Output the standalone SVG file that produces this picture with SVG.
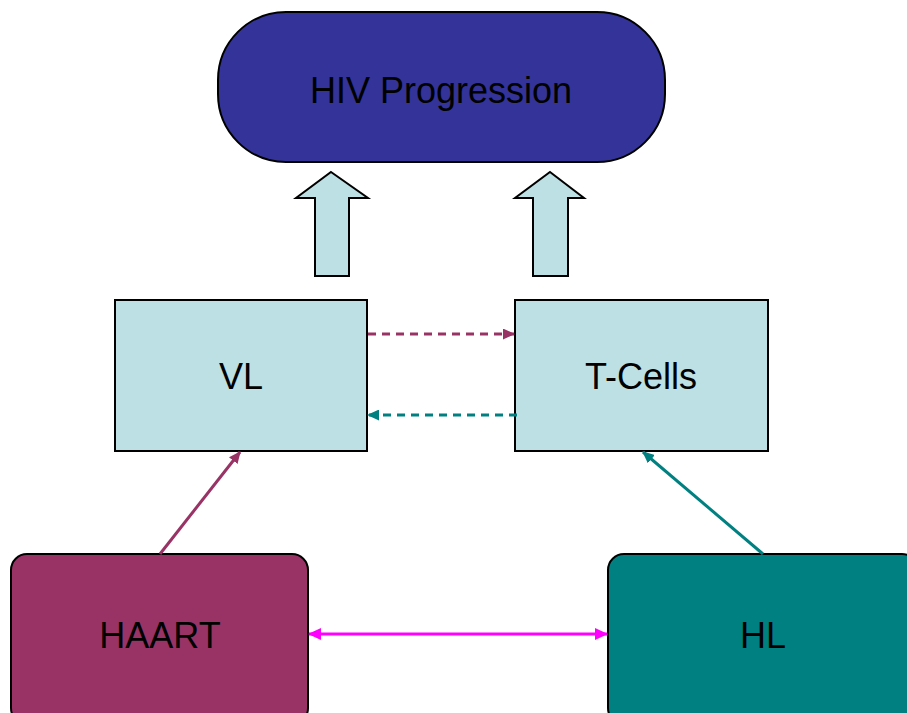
<svg xmlns="http://www.w3.org/2000/svg" width="907" height="713" viewBox="0 0 907 713">
<style>
.lbl{font-family:"Liberation Sans",Arial,sans-serif;font-size:36px;fill:#000;text-anchor:middle;dominant-baseline:central}
.box{fill:#BCE0E3;stroke:#000;stroke-width:2}
.blk{fill:#BCE0E3;stroke:#000;stroke-width:2;stroke-linejoin:miter}
</style>
<defs>
<marker id="mPurple" markerWidth="12" markerHeight="11" refX="11" refY="5.5" orient="auto" markerUnits="userSpaceOnUse" viewBox="0 0 12 11"><path d="M0,0 L12,5.5 L0,11 z" fill="#993366"/></marker>
<marker id="mTeal" markerWidth="12" markerHeight="11" refX="11" refY="5.5" orient="auto" markerUnits="userSpaceOnUse" viewBox="0 0 12 11"><path d="M0,0 L12,5.5 L0,11 z" fill="#008080"/></marker>
<marker id="mMagE" markerWidth="13" markerHeight="12" refX="12" refY="6" orient="auto" markerUnits="userSpaceOnUse" viewBox="0 0 13 12"><path d="M0,0 L13,6 L0,12 z" fill="#FF00FF"/></marker>
<marker id="mMagS" markerWidth="13" markerHeight="12" refX="1" refY="6" orient="auto" markerUnits="userSpaceOnUse" viewBox="0 0 13 12"><path d="M13,0 L0,6 L13,12 z" fill="#FF00FF"/></marker>
</defs>
<g id="hiv">
<rect x="218" y="12" width="447" height="150" rx="68" ry="68" fill="#333399" stroke="#000" stroke-width="2"/>
<text class="lbl" x="441" y="90">HIV Progression</text>
</g>
<g id="vl">
<rect class="box" x="115" y="300" width="252" height="151"/>
<text class="lbl" x="241" y="376">VL</text>
</g>
<g id="tcells">
<rect class="box" x="515" y="300" width="253" height="151"/>
<text class="lbl" x="641" y="376">T-Cells</text>
</g>
<g id="haart">
<rect x="11" y="554" width="297" height="170" rx="16" ry="16" fill="#993366" stroke="#000" stroke-width="2"/>
<text class="lbl" x="160" y="635">HAART</text>
</g>
<g id="hl">
<rect x="608" y="554" width="310" height="170" rx="16" ry="16" fill="#008080" stroke="#000" stroke-width="2"/>
<text class="lbl" x="763" y="635">HL</text>
</g>
<g id="connectors">
<path class="blk" d="M331,172 L368,198 L349,198 L349,276 L315,276 L315,198 L296,198 Z"/>
<path class="blk" d="M550,172 L584,198 L568,198 L568,276 L533,276 L533,198 L515,198 Z"/>
<line x1="368" y1="334" x2="514" y2="334" stroke="#993366" stroke-width="3" stroke-dasharray="8,6" marker-end="url(#mPurple)"/>
<line x1="517" y1="415" x2="368" y2="415" stroke="#008080" stroke-width="3" stroke-dasharray="8,6" marker-end="url(#mTeal)"/>
<line x1="160" y1="554" x2="240" y2="452" stroke="#993366" stroke-width="3" marker-end="url(#mPurple)"/>
<line x1="763" y1="554" x2="643" y2="452" stroke="#008080" stroke-width="3" marker-end="url(#mTeal)"/>
<line x1="309" y1="634" x2="607" y2="634" stroke="#FF00FF" stroke-width="3" marker-start="url(#mMagS)" marker-end="url(#mMagE)"/>
</g>
</svg>
